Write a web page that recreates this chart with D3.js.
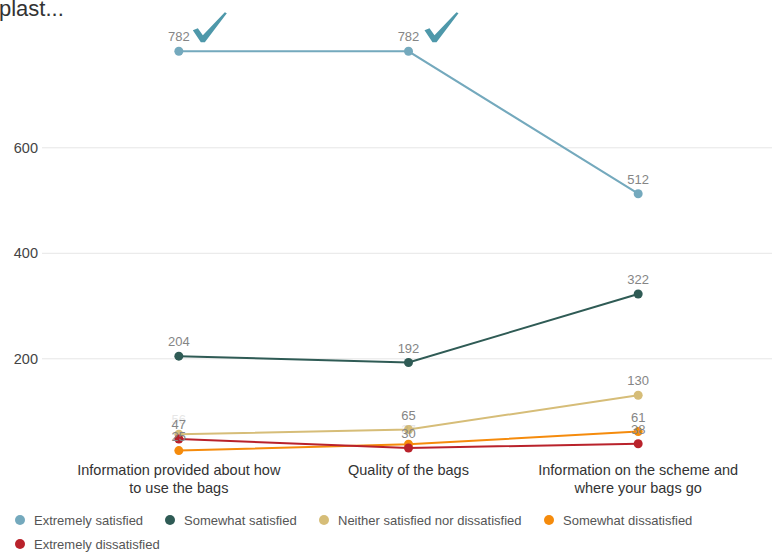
<!DOCTYPE html>
<html>
<head>
<meta charset="utf-8">
<script src="https://cdn.jsdelivr.net/npm/d3@7"></script>
<style>
  html, body { margin: 0; padding: 0; background: #fff; }
  svg { display: block; font-family: "Liberation Sans", Arial, sans-serif; }
</style>
</head>
<body>
<svg id="chart" width="772" height="553"></svg>
<script>
// Survey responses per aspect of the scheme
const categories = [
  "Information provided about how to use the bags",
  "Quality of the bags",
  "Information on the scheme and where your bags go"
];
const categoryLines = [
  ["Information provided about how", "to use the bags"],
  ["Quality of the bags"],
  ["Information on the scheme and", "where your bags go"]
];
const seriesNames = [
  "Extremely satisfied",
  "Somewhat satisfied",
  "Neither satisfied nor dissatisfied",
  "Somewhat dissatisfied",
  "Extremely dissatisfied"
];
const extremelySatisfied = [782, 782, 512];
const somewhatSatisfied = [204, 192, 322];
const neitherSatisfied = [56, 65, 130];
const somewhatDissatisfied = [25, 37, 61];
const extremelyDissatisfied = [47, 30, 38];
const seriesColors = ["#74a9bd", "#2f5b55", "#d6bd78", "#f58b0c", "#b9222b"];
const yTicks = [200, 400, 600];
const titleText = "plast...";

const seriesValues = [extremelySatisfied, somewhatSatisfied, neitherSatisfied,
                      somewhatDissatisfied, extremelyDissatisfied];
const series = seriesNames.map((name, i) => ({ name, color: seriesColors[i], values: seriesValues[i] }));

const svg = d3.select("#chart");

const x = d3.scalePoint().domain(categories).range([64, 753]).padding(0.5);
const y = d3.scaleLinear().domain([0, 800]).range([463.8, 41.8]);

// Title (clipped at the left edge)
svg.append("text")
  .attr("x", -1).attr("y", 16)
  .attr("font-size", 22).attr("fill", "#333")
  .text(titleText);

// Horizontal grid and y tick labels
const yAxis = d3.axisLeft(y).tickValues(yTicks).tickSize(0).tickPadding(0);
const gy = svg.append("g").attr("transform", "translate(38,0)").call(yAxis);
gy.select(".domain").remove();
gy.selectAll(".tick text")
  .attr("x", 0).attr("dy", "0.35em")
  .attr("font-size", 14.5).attr("fill", "#444")
  .attr("font-family", "Liberation Sans, Arial, sans-serif");
gy.selectAll(".tick").append("line")
  .attr("x1", 4).attr("x2", 772 - 38)
  .attr("stroke", "#e6e6e6").attr("stroke-width", 1);

// X category labels
const gx = svg.append("g");
categories.forEach((c, i) => {
  const t = gx.append("text")
    .attr("x", x(c)).attr("y", 475)
    .attr("text-anchor", "middle")
    .attr("font-size", 14.5).attr("fill", "#333");
  categoryLines[i].forEach((ln, j) => {
    t.append("tspan").attr("x", x(c)).attr("dy", j === 0 ? 0 : 18).text(ln);
  });
});

// Lines and points
const line = d3.line().x((d, i) => x(categories[i])).y(d => y(d));
const gLines = svg.append("g");
series.forEach(s => {
  gLines.append("path")
    .attr("d", line(s.values))
    .attr("fill", "none")
    .attr("stroke", s.color)
    .attr("stroke-width", 2);
});
series.forEach(s => {
  gLines.selectAll(null).data(s.values).enter().append("circle")
    .attr("cx", (d, i) => x(categories[i]))
    .attr("cy", d => y(d))
    .attr("r", 4.5)
    .attr("fill", s.color);
});

// Value labels; later series take precedence where labels collide
const placed = categories.map(() => []);
const labels = [];
for (let si = series.length - 1; si >= 0; si--) {
  series[si].values.forEach((v, ci) => {
    const ly = y(v) - 10;
    const clash = placed[ci].some(p => Math.abs(p - ly) < 9);
    if (!clash) placed[ci].push(ly);
    labels.push({ v, ci, ly, faded: clash });
  });
}
svg.append("g").selectAll("text").data(labels).enter().append("text")
  .attr("x", d => x(categories[d.ci]))
  .attr("y", d => d.ly)
  .attr("text-anchor", "middle")
  .attr("font-size", 13)
  .attr("fill", "#858585")
  .attr("opacity", d => d.faded ? 0.2 : 1)
  .text(d => d.v);

// Tick marks beside the top results
const checkShape = [[14, -21], [19, -23], [24, -16], [46, -39], [48, -38], [26, -9], [22, -9]];
[0, 1].forEach(ci => {
  const cx = x(categories[ci]) + (ci === 1 ? 2 : 0);
  const cy = y(extremelySatisfied[ci]);
  svg.append("path")
    .attr("d", d3.line()(checkShape.map(p => [cx + p[0], cy + p[1]])) + "Z")
    .attr("fill", "#4e98aa");
});

// Legend
const legendItems = [
  { i: 0, cx: 20, cy: 520 },
  { i: 1, cx: 170, cy: 520 },
  { i: 2, cx: 324, cy: 520 },
  { i: 3, cx: 549, cy: 520 },
  { i: 4, cx: 20, cy: 544 }
];
const gl = svg.append("g");
legendItems.forEach(li => {
  gl.append("circle").attr("cx", li.cx).attr("cy", li.cy).attr("r", 5)
    .attr("fill", series[li.i].color);
  gl.append("text").attr("x", li.cx + 14).attr("y", li.cy).attr("dy", "0.35em")
    .attr("font-size", 13).attr("fill", "#555")
    .text(series[li.i].name);
});
</script>
</body>
</html>
